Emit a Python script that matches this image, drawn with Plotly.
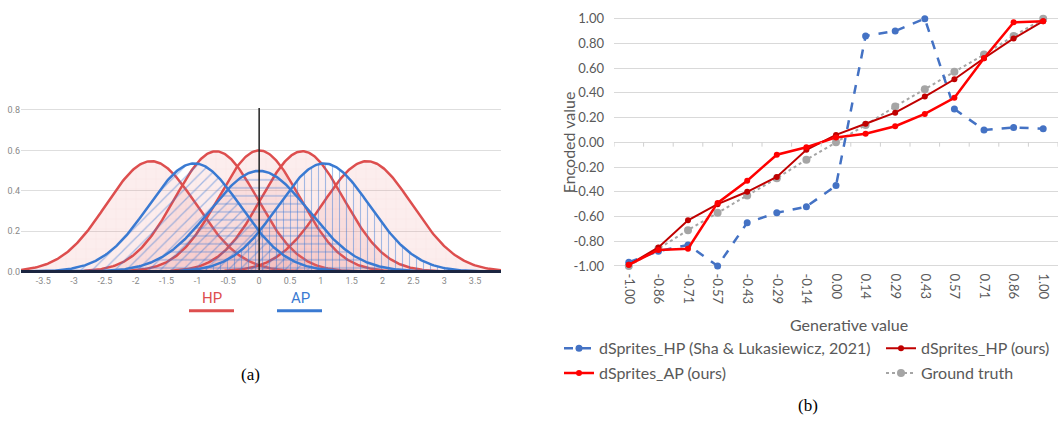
import numpy as np
import plotly.graph_objects as go

W, H = 1063, 422

# ---- Panel (a): Gaussian components (mean, standard deviation) ----
hp_means = [-1.75, -0.7, 0.0, 0.7, 1.75]
hp_sds = [0.73, 0.67, 0.665, 0.67, 0.73]
ap_means = [-1.05, 0.0, 1.05]
ap_sds = [0.745, 0.80, 0.745]
ap_hatches = ["/", "-", "|"]
ap_hatch_sizes = [8, 8, 7]
a_xticks = [-3.5, -3, -2.5, -2, -1.5, -1, -0.5, 0, 0.5, 1, 1.5, 2, 2.5, 3, 3.5]
a_yticks = [0.0, 0.2, 0.4, 0.6, 0.8]

# ---- Panel (b): encoded vs generative values ----
gen_values = ["-1.00", "-0.86", "-0.71", "-0.57", "-0.43", "-0.29", "-0.14", "0.00",
              "0.14", "0.29", "0.43", "0.57", "0.71", "0.86", "1.00"]
sha_hp = [-0.97, -0.88, -0.83, -1.00, -0.65, -0.57, -0.52, -0.35,
          0.86, 0.90, 1.00, 0.27, 0.10, 0.12, 0.11]
ours_hp = [-0.99, -0.85, -0.63, -0.50, -0.40, -0.28, -0.06, 0.06,
           0.15, 0.24, 0.37, 0.51, 0.68, 0.84, 0.98]
ours_ap = [-0.99, -0.87, -0.86, -0.49, -0.31, -0.10, -0.04, 0.04,
           0.07, 0.13, 0.23, 0.36, 0.68, 0.97, 0.98]
ground_truth = [-1.00, -0.86, -0.71, -0.57, -0.43, -0.29, -0.14, 0.00,
                0.14, 0.29, 0.43, 0.57, 0.71, 0.86, 1.00]
b_yticks = [-1.0, -0.8, -0.6, -0.4, -0.2, 0.0, 0.2, 0.4, 0.6, 0.8, 1.0]

RED = "rgb(221,78,78)"
BLUE = "rgb(58,122,210)"
GREY_TXT = "#595959"


def fx(px):
    return px / W


def fy(py):
    return 1 - py / H


def normal_pdf(x, mu, sd):
    return np.exp(-0.5 * ((x - mu) / sd) ** 2) / (sd * np.sqrt(2 * np.pi))


fig = go.Figure()
xs = np.linspace(-3.86, 3.92, 500)

for mu, sd in zip(hp_means, hp_sds):
    fig.add_trace(go.Scatter(
        x=xs, y=normal_pdf(xs, mu, sd), mode="lines", xaxis="x", yaxis="y",
        line=dict(color=RED, width=2.5), fill="tozeroy",
        fillpattern=dict(shape="+", size=10, solidity=0.08,
                         fgcolor="rgba(215,90,90,0.16)", bgcolor="rgba(235,110,110,0.12)"),
        showlegend=False, hoverinfo="skip"))

for mu, sd, hatch, hs in zip(ap_means, ap_sds, ap_hatches, ap_hatch_sizes):
    fig.add_trace(go.Scatter(
        x=xs, y=normal_pdf(xs, mu, sd), mode="lines", xaxis="x", yaxis="y",
        line=dict(color=BLUE, width=2.5), fill="tozeroy",
        fillpattern=dict(shape=hatch, size=hs, solidity=0.16,
                         fgcolor="rgba(55,120,215,0.9)", bgcolor="rgba(0,0,0,0)"),
        showlegend=False, hoverinfo="skip"))

# ---- Panel (b) traces ----
fig.add_trace(go.Scatter(
    x=gen_values, y=ground_truth, name="Ground truth", xaxis="x2", yaxis="y2",
    mode="lines+markers", line=dict(color="#A5A5A5", width=2, dash="dot"),
    marker=dict(size=8, color="#A5A5A5"), legend="legend2", legendrank=2,
    legendgroup="gt", cliponaxis=False))
fig.add_trace(go.Scatter(
    x=gen_values, y=sha_hp, name="dSprites_HP (Sha & Lukasiewicz, 2021)",
    xaxis="x2", yaxis="y2", mode="lines+markers",
    line=dict(color="#4472C4", width=2.5, dash="dash"),
    marker=dict(size=7, color="#4472C4"), legend="legend", legendrank=1,
    legendgroup="sha", cliponaxis=False))
fig.add_trace(go.Scatter(
    x=gen_values, y=ours_hp, name="dSprites_HP (ours)", xaxis="x2", yaxis="y2",
    mode="lines+markers", line=dict(color="#C00000", width=2),
    marker=dict(size=6, color="#C00000"), legend="legend2", legendrank=1,
    legendgroup="hp", cliponaxis=False))
fig.add_trace(go.Scatter(
    x=gen_values, y=ours_ap, name="dSprites_AP (ours)", xaxis="x2", yaxis="y2",
    mode="lines+markers", line=dict(color="#FF0000", width=2.5),
    marker=dict(size=6, color="#FF0000"), legend="legend", legendrank=2,
    legendgroup="ap", cliponaxis=False))

shapes = [
    # vertical reference line at x = 0
    dict(type="line", xref="x", yref="y", x0=0, x1=0, y0=0, y1=0.81,
         line=dict(color="#222222", width=1.5)),
    # baseline
    dict(type="line", xref="x domain", yref="y", x0=0, x1=1, y0=0, y1=0,
         line=dict(color="#1b2540", width=3)),
    # HP / AP key lines
    dict(type="line", xref="paper", yref="paper", x0=fx(189), x1=fx(234),
         y0=fy(313), y1=fy(313), line=dict(color=RED, width=3)),
    dict(type="line", xref="paper", yref="paper", x0=fx(277), x1=fx(322),
         y0=fy(313), y1=fy(313), line=dict(color=BLUE, width=3)),
]
# category boundary tick marks on the zero line of panel (b)
for i in range(len(gen_values) + 1):
    shapes.append(dict(type="line", xref="x2", yref="y2", x0=i - 0.5, x1=i - 0.5,
                       y0=0, y1=-0.035, line=dict(color="#d0d0d0", width=1)))


def label(text, px, py, size, color, family, angle=0):
    return dict(text=text, x=fx(px), y=fy(py), xref="paper", yref="paper",
                xanchor="center", yanchor="middle", showarrow=False, textangle=angle,
                font=dict(family=family, size=size, color=color))


annotations = [
    label("HP", 212, 300, 15, RED, "Roboto"),
    label("AP", 300, 300, 15, BLUE, "Roboto"),
    label("(a)", 250, 378, 17, "black", "Liberation Serif"),
    label("(b)", 808, 410, 17, "black", "Liberation Serif"),
    label("Encoded value", 568, 140, 16, GREY_TXT, "Lato", angle=-90),
    label("Generative value", 849, 327, 16, GREY_TXT, "Lato"),
]

legend_common = dict(
    orientation="v", xanchor="left", yanchor="top", bgcolor="rgba(0,0,0,0)",
    borderwidth=0, tracegroupgap=1, traceorder="grouped",
    font=dict(family="Lato", size=16, color=GREY_TXT))

fig.update_layout(
    width=W, height=H, margin=dict(l=0, r=0, t=0, b=0),
    paper_bgcolor="white", plot_bgcolor="white",
    showlegend=True,
    xaxis=dict(domain=[fx(21), fx(501)], range=[-3.86, 3.92], anchor="y",
               tickvals=a_xticks, ticktext=[f"{v:g}" for v in a_xticks],
               showgrid=False, zeroline=False, showline=False, ticks="",
               tickfont=dict(family="Roboto", size=9, color="#888888")),
    yaxis=dict(domain=[fy(274.8), fy(100.5)], range=[-0.01, 0.83], anchor="x",
               tickvals=a_yticks, ticktext=[f"{v:.1f}" for v in a_yticks],
               showgrid=True, gridcolor="#dedede", zeroline=False, ticks="",
               tickfont=dict(family="Roboto", size=9, color="#888888")),
    xaxis2=dict(domain=[fx(614), fx(1058)], anchor="y2", type="category",
                range=[-0.5, len(gen_values) - 0.5], tickangle=90,
                showgrid=False, zeroline=False, showline=False, ticks="",
                ticklabelstandoff=4,
                tickfont=dict(family="Lato", size=13, color=GREY_TXT)),
    yaxis2=dict(domain=[fy(269.5), fy(10.46)], anchor="x2", range=[-1.02, 1.02],
                tickvals=b_yticks, ticktext=[f"{v:.2f}" for v in b_yticks],
                showgrid=True, gridcolor="#d9d9d9", zeroline=False, ticks="",
                ticklabelstandoff=9,
                tickfont=dict(family="Lato", size=13, color=GREY_TXT)),
    legend=dict(x=fx(559), y=fy(334), **legend_common),
    legend2=dict(x=fx(881), y=fy(334), **legend_common),
    shapes=shapes,
    annotations=annotations,
)

fig.write_html("out.html")
